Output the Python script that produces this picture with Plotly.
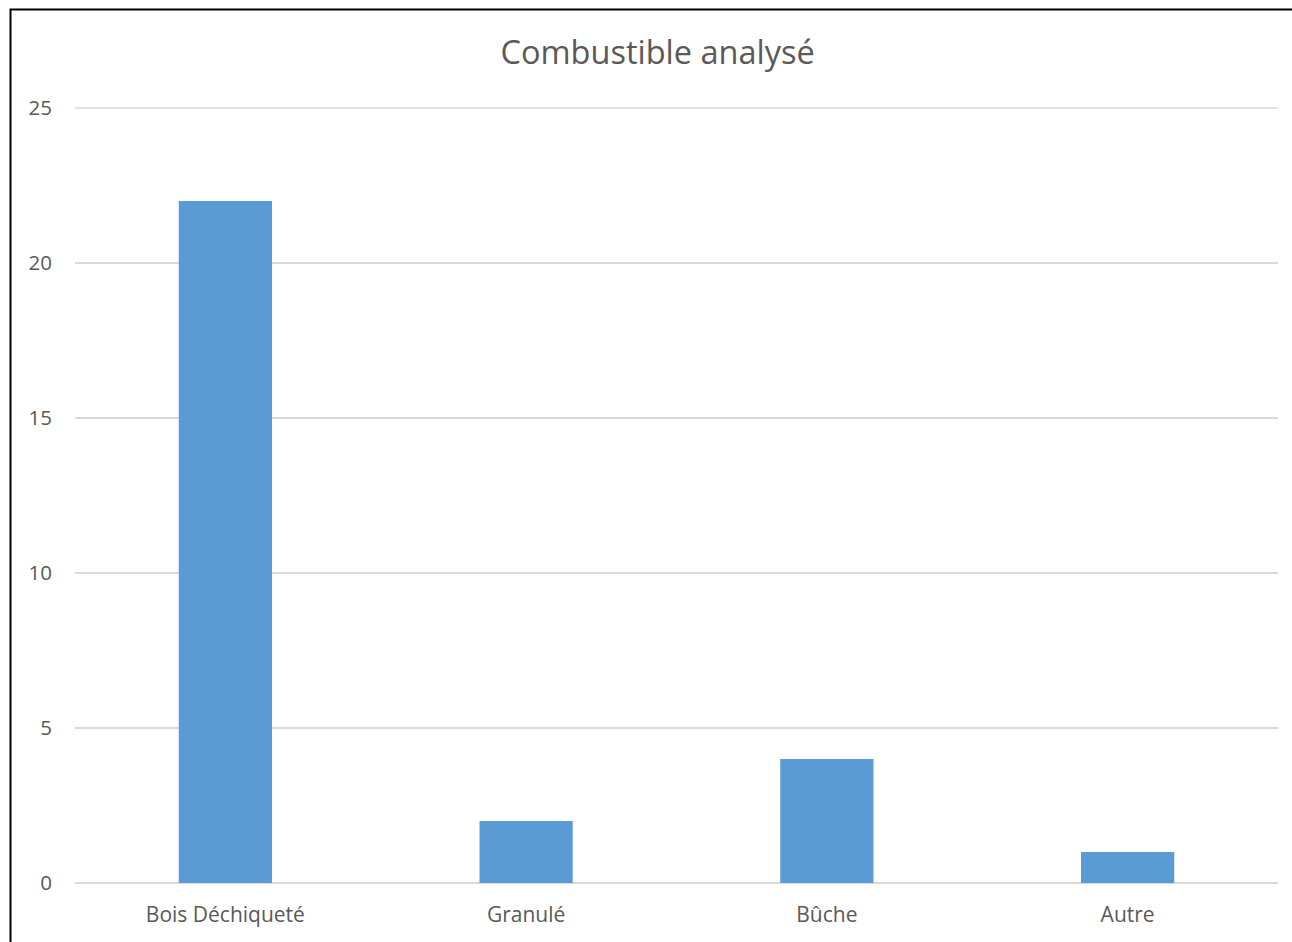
import plotly.graph_objects as go

categories = ["Bois Déchiqueté", "Granulé", "Bûche", "Autre"]
values = [22, 2, 4, 1]
y_ticks = [0, 5, 10, 15, 20, 25]

FONT = "Open Sans"
TXT = "#595959"

fig = go.Figure(go.Bar(x=categories, y=values, marker=dict(color="#5b9bd5", line=dict(width=0)),
                       width=0.31))

fig.update_layout(
    width=1292, height=942,
    margin=dict(l=75, r=14, t=107, b=59),
    paper_bgcolor="white", plot_bgcolor="white",
    title=dict(text="Combustible analysé", x=0.509, xref="container", xanchor="center",
               y=1 - 53 / 942, yref="container", yanchor="middle",
               font=dict(family=FONT, size=32.5, color=TXT)),
    showlegend=False,
    font=dict(family=FONT, size=21, color=TXT),
)
fig.update_yaxes(range=[0, 25.03], tickvals=y_ticks, showgrid=True, gridcolor="#d9d9d9", gridwidth=1.5,
                 zeroline=True, zerolinecolor="#d9d9d9", zerolinewidth=1.5, showline=False,
                 ticks="", ticklabelstandoff=22, tickfont=dict(family=FONT, size=20.5, color=TXT))
fig.update_xaxes(showgrid=False, showline=False, ticks="", ticklabelstandoff=17,
                 tickfont=dict(family=FONT, size=21, color=TXT))

# top gridline (at the plot edge)
fig.add_shape(type="line", xref="paper", yref="y", x0=0, x1=1, y0=y_ticks[-1], y1=y_ticks[-1],
              line=dict(color="#d9d9d9", width=1.5), layer="below")

# outer chart border (partially cut off at right/bottom in reference)
fig.add_shape(type="rect", xref="paper", yref="paper",
              x0=(10.5 - 75) / 1203, x1=(1310 - 75) / 1203,
              y0=(883 - 960) / 776, y1=(883 - 9.5) / 776,
              line=dict(color="black", width=2), fillcolor="rgba(0,0,0,0)", layer="above")

fig.write_html("out.html")
